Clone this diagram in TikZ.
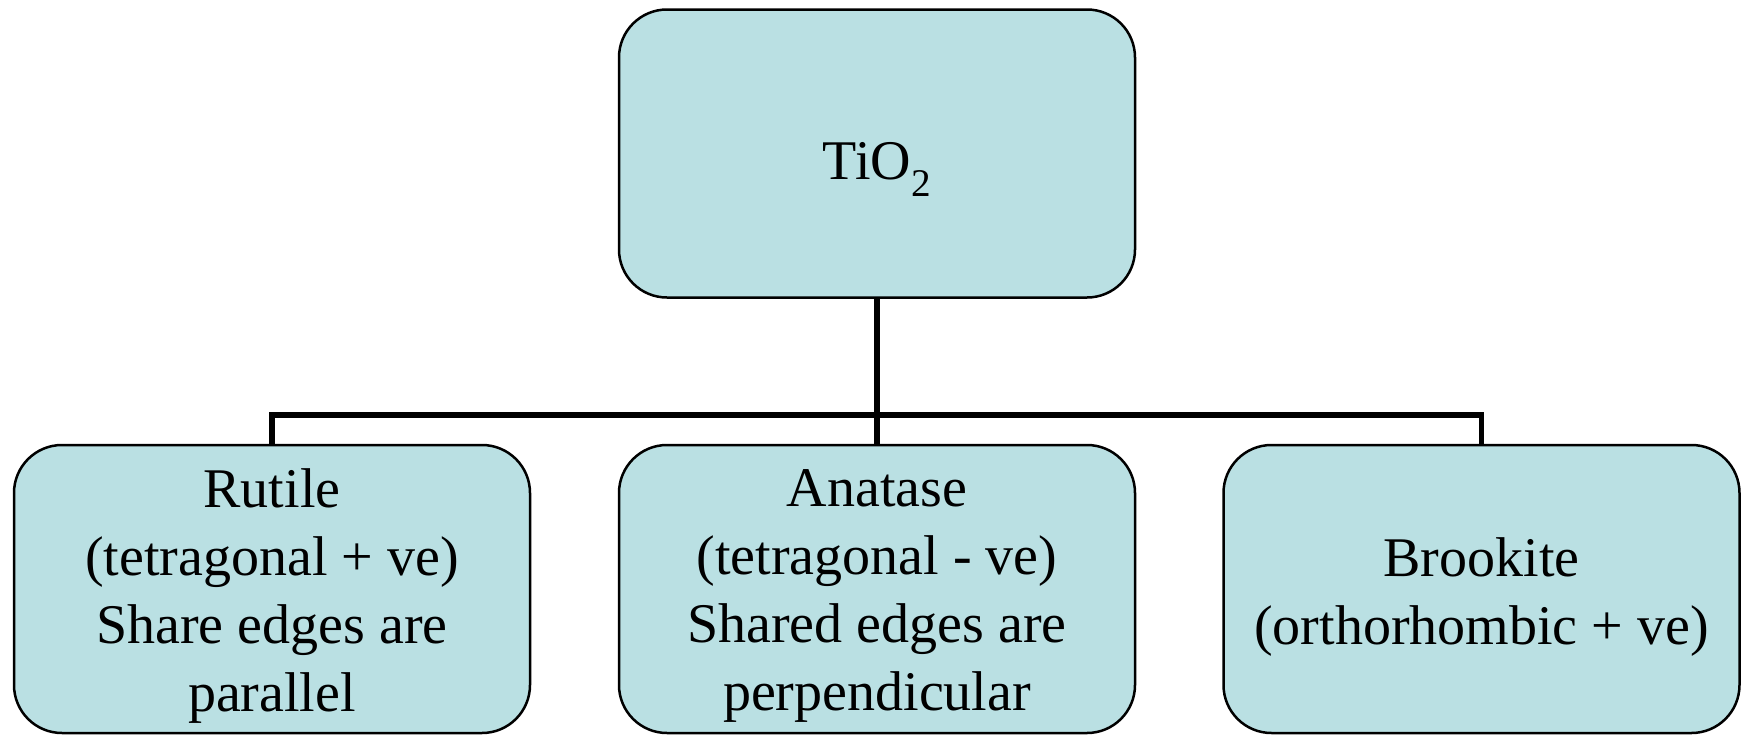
\documentclass[tikz,border=0pt]{standalone}
\usepackage{fontspec}
\setmainfont{Liberation Serif}
\definecolor{boxfill}{RGB}{186,224,227}
\begin{document}
\begin{tikzpicture}[x=1pt,y=-1pt,
  box/.style={draw=black, line width=2.5pt, fill=boxfill, rounded corners=48pt,
    minimum width=516pt, minimum height=288pt, inner sep=0pt},
  boxtext/.style={align=center, font=\fontsize{56}{68}\selectfont, inner sep=0pt},
  conn/.style={draw=black, line width=5.5pt}]
\useasboundingbox (0,0) rectangle (1743,734);
\node[box, label={[boxtext, yshift=-16pt]center:TiO\textsubscript{2}}] (top) at (877,153.5) {};
\node[box, label={[boxtext, yshift=-7pt]center:Rutile\\(tetragonal + ve)\\Share edges are\\parallel}] (left) at (272,589) {};
\node[box, label={[boxtext, yshift=-7pt]center:Anatase\\(tetragonal - ve)\\Shared edges are\\perpendicular}] (mid) at (877,589) {};
\node[box, label={[boxtext, yshift=-8pt]center:Brookite\\(orthorhombic + ve)}] (right) at (1481.5,589) {};
\coordinate (bus) at (877,415);
\draw[conn] (top.south) -- (bus);
\draw[conn] (left.north) -- (left.north |- bus) -- (right.north |- bus) -- (right.north);
\draw[conn] (bus) -- (mid.north);
\end{tikzpicture}
\end{document}
